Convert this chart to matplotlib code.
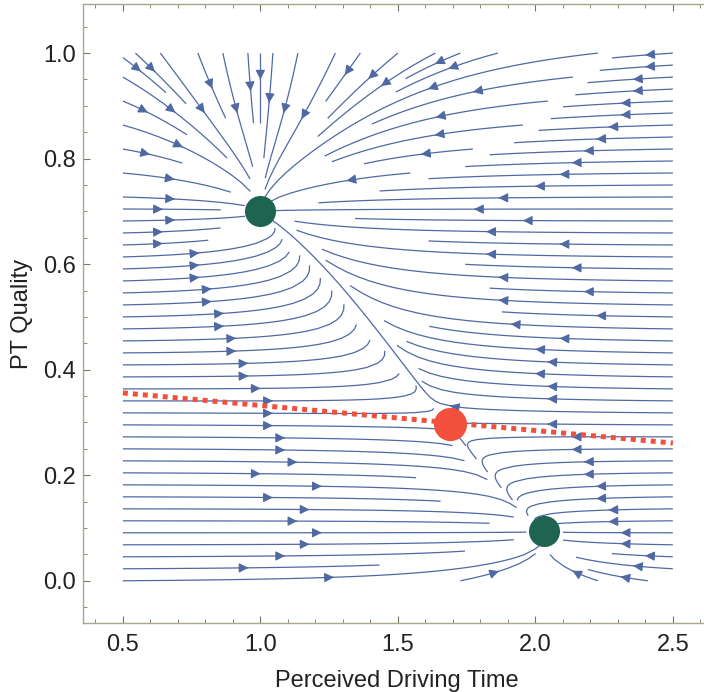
import numpy as np
import matplotlib
matplotlib.use('Agg')
import matplotlib.pyplot as plt
from matplotlib.ticker import MultipleLocator

# equilibria
stable_x = [1.0, 2.03]
stable_y = [0.70, 0.094]
saddle_x = [1.69]
saddle_y = [0.298]

# red dotted separatrix (end points)
sep_x = [0.5, 2.5]
sep_y = [0.356, 0.261]

x_ticks = [0.5, 1.0, 1.5, 2.0, 2.5]
y_ticks = [0.0, 0.2, 0.4, 0.6, 0.8, 1.0]

# rates of the toy model
rate_x = 1.0
stiff_x = 3.0
rate_y = 2.0


def field(X, Y):
    """Vector field with stable nodes at the two green dots and a saddle on the red line."""
    xa, xb = stable_x
    ya, yb = stable_y
    # x-nullcline runs between the two stable nodes
    frac = np.clip((Y - yb) / (ya - yb), 0, 1)
    d = xb + (xa - xb) * frac - X
    U = rate_x * d * (1 + stiff_x * d ** 2)
    # y is bistable, the red line is the unstable branch
    m = sep_y[0] + (sep_y[1] - sep_y[0]) * (X - sep_x[0]) / (sep_x[1] - sep_x[0])
    V = rate_y * (Y - yb) * (Y - m) * (ya - Y)
    return U, V


plt.rcParams['font.family'] = ['Liberation Sans', 'DejaVu Sans']

fig = plt.figure(figsize=(7.04, 6.92), dpi=100)
ax = fig.add_axes([83 / 704, 69 / 692, 627 / 704, 619 / 692])

gx = np.linspace(0.5, 2.5, 240)
gy = np.linspace(0.0, 1.0, 240)
X, Y = np.meshgrid(gx, gy)
U, V = field(X, Y)

try:
    ax.streamplot(X, Y, U, V, density=1.5, color='#5069a3', linewidth=0.9,
                  arrowsize=1.4, arrowstyle='-|>', num_arrows=3, zorder=1)
except TypeError:
    ax.streamplot(X, Y, U, V, density=1.5, color='#5069a3', linewidth=0.9,
                  arrowsize=1.4, arrowstyle='-|>', zorder=1)

ax.plot(sep_x, sep_y, color='#f2503c', lw=3.6, linestyle=(0, (1, 1)),
        solid_capstyle='butt', dash_capstyle='butt', zorder=3)
ax.scatter(stable_x, stable_y, s=500, color='#1e6450', zorder=4, linewidths=0)
ax.scatter(saddle_x, saddle_y, s=570, color='#f2503c', zorder=4, linewidths=0)

ax.set_xlim(0.355, 2.635)
ax.set_ylim(-0.08, 1.093)
ax.set_xticks(x_ticks)
ax.set_yticks(y_ticks)
ax.set_xticklabels([f'{v:.1f}' for v in x_ticks])
ax.set_yticklabels([f'{v:.1f}' for v in y_ticks])
ax.xaxis.set_minor_locator(MultipleLocator(0.1))
ax.yaxis.set_minor_locator(MultipleLocator(0.05))

frame = '#aaa68c'
for side in ['left', 'bottom', 'top']:
    ax.spines[side].set_color(frame)
    ax.spines[side].set_linewidth(1.0)
ax.spines['right'].set_visible(False)
ax.tick_params(which='both', direction='in', top=True, right=False, color='#777766',
               labelsize=17, labelcolor='#222222')
ax.tick_params(axis='x', pad=8)
ax.tick_params(axis='y', pad=5)
ax.tick_params(which='major', length=5)
ax.tick_params(which='minor', length=3)

ax.set_xlabel('Perceived Driving Time', fontsize=17, color='#222222', labelpad=10)
ax.set_ylabel('PT Quality', fontsize=17, color='#222222', labelpad=7)

fig.savefig('out.png', dpi=100)
